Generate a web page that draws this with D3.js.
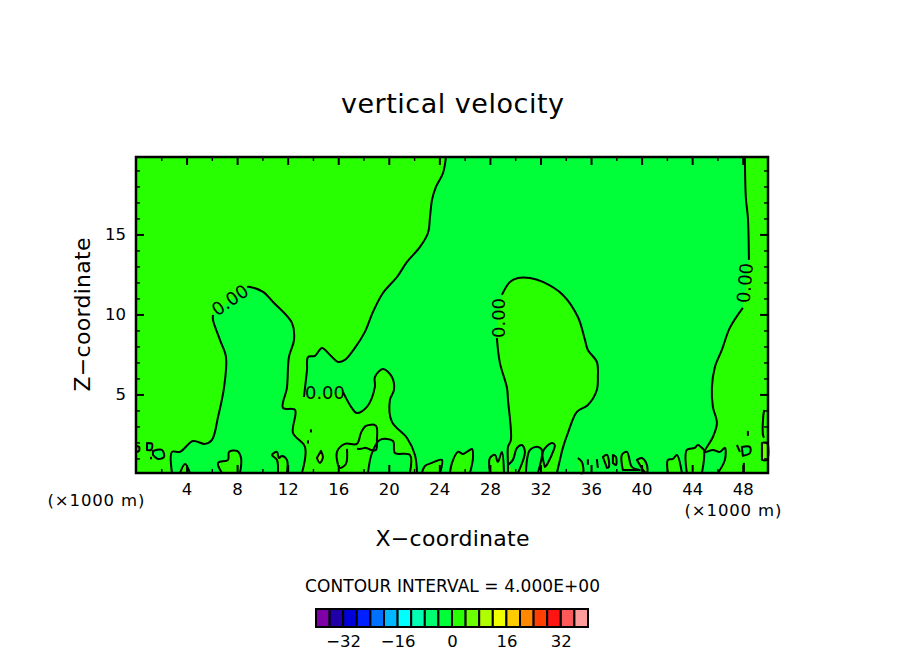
<!DOCTYPE html>
<html>
<head>
    <title>vertical velocity</title>
    <meta charset="utf-8">
    <script src="https://cdnjs.cloudflare.com/ajax/libs/d3/7.8.5/d3.min.js"></script>
    <style>
        html, body {
            margin: 0;
            background: #fff;
        }

        svg {
            display: block;
        }

        text {
            font-family: "DejaVu Sans", sans-serif;
            fill: #000;
        }

        .contour {
            fill: none;
            stroke: #000;
            stroke-width: 2;
            stroke-linejoin: round;
        }
    </style>
</head>
<body>
<svg id="chart" width="904" height="654"></svg>
<script type="text/javascript">

var xMajorTicks = [4, 8, 12, 16, 20, 24, 28, 32, 36, 40, 44, 48],
    xMinorTicks = [2, 6, 10, 14, 18, 22, 26, 30, 34, 38, 42, 46],
    zMajorTicks = [5, 10, 15],
    zMinorTicks = [1, 2, 3, 4, 6, 7, 8, 9, 11, 12, 13, 14, 16, 17, 18, 19],
    barLevels = [-40, -36, -32, -28, -24, -20, -16, -12, -8, -4, 0, 4, 8, 12, 16, 20, 24, 28, 32, 36, 40],
    barTicks = [-32, -16, 0, 16, 32],
    barColors = ['#8000a8', '#2000a8', '#0000d8', '#0020ff', '#0070ff', '#00b8ff', '#00ffff', '#00ffb4',
        '#00ff70', '#00ff38', '#28ff00', '#6cff00', '#b0ff00', '#f0ff00', '#ffcc00', '#ff8800',
        '#ff4000', '#ff1414', '#ff5858', '#ff9c9c'];

// contour lines as [x, z], split where the 0.00 labels sit
var ridgeUpper = [[24.52, 19.84], [24.29, 18.84], [23.73, 17.97], [23.42, 17.16], [23.26, 16.09], [23.10, 15.09],
        [22.47, 14.22], [21.44, 13.28], [20.65, 12.34], [19.54, 11.34], [18.75, 10.16], [18.11, 8.91], [17.32, 7.91],
        [16.53, 7.16], [15.98, 7.03], [15.35, 7.47], [14.71, 7.91], [14.16, 7.41], [13.61, 7.34], [13.53, 6.53],
        [13.37, 5.41], [13.29, 4.84]],
    ridgeLower = [[16.37, 5.16], [17.07, 4.16], [17.47, 3.84], [18.27, 4.22], [18.90, 5.47], [18.90, 6.09], [19.54, 6.59],
        [20.25, 6.09], [20.41, 5.28], [20.09, 4.66], [20.25, 3.28], [21.44, 2.28], [22.07, 1.22], [22.23, 0.09]],
    lobeRight = [[13.13, 0.09], [13.37, 1.72], [12.42, 2.59], [12.58, 4.03], [11.63, 4.16], [11.94, 5.41], [12.10, 7.34],
        [12.50, 8.41], [12.34, 9.47], [10.84, 10.78], [10.05, 11.41], [9.02, 11.72], [8.78, 11.72]],
    lobeLeft = [[6.09, 9.97], [6.09, 9.66], [6.64, 8.41], [7.12, 7.34], [6.96, 5.41], [6.49, 3.59], [6.01, 2.16], [5.46, 1.91],
        [4.51, 2.09], [3.48, 1.41], [2.85, 1.41], [2.85, 0.09]],
    hillLeft = [[29.43, 0.09], [29.43, 0.59], [29.43, 1.72], [29.66, 2.16], [29.43, 4.66], [29.35, 5.41], [28.79, 6.97], [28.55, 8.53]],
    hillRight = [[28.95, 11.22], [29.58, 12.03], [30.22, 12.28], [31.17, 12.28], [32.19, 12.03], [33.77, 11.22], [34.96, 9.84],
        [35.52, 8.41], [35.75, 7.78], [36.46, 7.03], [36.54, 6.09], [36.46, 5.28], [35.75, 4.34], [34.88, 3.91], [34.17, 2.59],
        [33.77, 1.66], [33.54, 0.91], [33.30, 0.09]],
    edgeUpper = [[48.17, 19.84], [48.25, 17.28], [48.41, 16.03], [48.49, 13.41]],
    edgeLower = [[48.01, 10.41], [46.98, 9.16], [46.35, 7.78], [45.80, 6.72], [45.56, 5.41], [45.64, 4.22], [45.96, 3.22],
        [45.64, 2.34], [45.01, 1.41], [45.64, 1.53], [46.20, 1.41], [46.59, 1.66], [46.59, 0.91], [46.04, 0.09]];

// closed or bottom-open cells, by what they hold
var positiveCells = [
        [[3.48, 0.09], [3.88, 0.66], [4.27, 0.09]],
        [[6.80, 0.09], [6.49, 0.72], [7.28, 0.91], [7.36, 1.41], [7.99, 1.47], [8.31, 1.03], [8.23, 0.09]],
        [[11.23, 0.09], [11.15, 0.91], [10.76, 1.22], [11.15, 1.41], [11.31, 1.03], [11.55, 1.16], [11.94, 0.91], [11.94, 0.09]],
        [[22.62, 0.09], [22.86, 0.53], [23.41, 0.72], [24.20, 0.91], [24.05, 0.09]],
        [[24.84, 0.09], [25.00, 0.72], [25.47, 1.41], [25.87, 1.28], [26.18, 1.41], [26.58, 1.59], [26.66, 1.03], [26.42, 0.09]],
        [[28.00, 0.09], [28.00, 1.03], [28.40, 1.22], [28.63, 0.78], [28.95, 1.41], [29.11, 0.09]],
        [[34.96, 1.03], [35.28, 0.78], [35.36, 0.09], [35.12, 0.09]],
        [[36.94, 1.09], [37.26, 1.22], [37.41, 0.47], [37.26, 0.41]],
        [[37.73, 1.22], [37.97, 1.09], [37.97, 0.59], [37.73, 0.72]],
        [[38.52, 0.28], [38.44, 1.22], [38.84, 1.41], [39.23, 0.47], [39.86, 0.28]],
        [[39.63, 0.91], [40.02, 1.03], [40.42, 0.59], [40.42, 0.09], [40.10, 0.28]],
        [[42.08, 0.09], [42.08, 0.91], [42.48, 0.97], [42.79, 1.22], [43.19, 0.09]],
        [[43.58, 0.09], [43.58, 1.53], [44.20, 1.66], [44.45, 1.84], [44.77, 1.66], [44.93, 1.53], [44.93, 0.91], [44.77, 0.09]]
    ],
    negativeCells = [
        [[18.35, 0.09], [18.67, 1.34], [19.30, 2.16], [20.33, 2.09], [20.49, 1.34], [21.67, 1.22], [21.67, 0.09]],
        [[30.22, 0.09], [30.77, 1.41], [30.53, 1.84], [30.14, 1.66], [29.82, 0.91], [29.43, 0.59]],
        [[30.85, 0.09], [31.17, 1.53], [31.80, 1.72], [32.11, 1.53], [31.80, 0.09]],
        [[32.35, 0.47], [32.19, 1.41], [32.89, 1.97], [33.13, 1.84], [32.89, 1.22], [32.50, 0.59]],
        [[0.87, 1.97], [1.27, 1.91], [1.19, 1.53], [0.87, 1.53]],
        [[1.34, 1.47], [2.06, 1.53], [2.21, 1.09], [1.74, 0.97], [1.34, 1.22]],
        [[47.93, 1.72], [48.57, 1.72], [48.57, 1.34], [48.01, 1.16]]
    ],
    strongCells = [
        [[14.63, 1.47], [14.79, 1.09], [14.55, 0.72], [14.31, 1.03]],
        [[49.52, 1.97], [49.92, 1.97], [49.92, 0.91], [49.52, 0.91]]
    ],
    looseLines = [
        [[15.98, 0.6], [15.90, 1.41], [16.53, 1.91], [17.48, 1.91], [17.80, 2.60], [18.19, 3.04], [18.98, 3.04], [19.06, 2.16], [18.98, 1.53], [18.59, 1.53], [18.19, 1.66], [17.80, 1.60], [17.48, 1.60]],
        [[16.69, 1.60], [16.61, 0.66], [16.15, 0.41], [15.98, 0.6]],
        [[0, 1.78], [0.24, 1.72], [0.24, 1.47], [0, 1.41]],
        [[13.84, 2.82], [13.84, 2.62]],
        [[13.61, 2.13], [13.61, 1.93]],
        [[1.19, 1.10], [1.19, 0.95]],
        [[35.75, 0.95], [35.75, 0.60]],
        [[36.46, 0.95], [36.54, 0.41]],
        [[47.54, 1.84], [47.78, 1.41]],
        [[48.41, 2.72], [48.41, 2.41]],
        [[48.09, 0.72], [48.09, 0.09]],
        [[49.70, 4.03], [49.62, 3.60], [49.62, 2.40], [49.70, 2.30]]
    ];

var labelPoints = [[14.95, 5.09, 0], [7.43, 10.9, -35], [28.71, 9.78, -90], [48.17, 11.97, -85]];

var xMin = 0,
    xMax = 50,
    zMin = 0.09,
    zMax = 19.84,
    negativeColor = barColors[9],
    positiveColor = barColors[10],
    strongColor = barColors[11];

var svg = d3.select('#chart'),
    xScale = d3.scaleLinear().domain([xMin, xMax]).range([136, 768]),
    zScale = d3.scaleLinear().domain([zMin, zMax]).range([473, 157]),
    barScale = d3.scaleLinear().domain([barLevels[0], barLevels[barLevels.length - 1]]).range([316, 588]),
    straightLine = d3.line()
        .x(function (d) { return xScale(d[0]); })
        .y(function (d) { return zScale(d[1]); }),
    line = d3.line()
        .curve(d3.curveCatmullRom.alpha(0.5))
        .x(function (d) { return xScale(d[0]); })
        .y(function (d) { return zScale(d[1]); });

var plot = svg.append('g');

plot.append('rect')
    .attr('x', xScale(xMin))
    .attr('y', zScale(zMax))
    .attr('width', xScale(xMax) - xScale(xMin))
    .attr('height', zScale(zMin) - zScale(zMax))
    .attr('fill', negativeColor);

function fillCell(points, color) {
    plot.append('path')
        .attr('d', line(points) + 'Z')
        .attr('fill', color)
        .attr('stroke', 'none');
}

function isClosedCell(points) {
    return points.length > 3 && points[0][1] > 0.2 && points[points.length - 1][1] > 0.2;
}

var upperLeft = [[xMin, zMax]].concat(ridgeUpper, ridgeLower, lobeRight, lobeLeft, [[xMin, zMin]]),
    hill = hillLeft.concat(hillRight),
    rightSide = edgeUpper.concat(edgeLower, [[xMax, zMin], [xMax, zMax]]);

// corners of the plot must stay sharp, so these two are filled without the curve
plot.append('path')
    .attr('d', straightLine(upperLeft) + 'Z')
    .attr('fill', positiveColor);
plot.append('path')
    .attr('d', straightLine(rightSide) + 'Z')
    .attr('fill', positiveColor);
fillCell(hill, positiveColor);
positiveCells.forEach(function (cell) { fillCell(cell, positiveColor); });
negativeCells.forEach(function (cell) { fillCell(cell, negativeColor); });
strongCells.forEach(function (cell) { fillCell(cell, strongColor); });

[ridgeUpper, ridgeLower, lobeRight, lobeLeft, hillLeft, hillRight, edgeUpper, edgeLower]
    .concat(looseLines)
    .forEach(function (points) {
        plot.append('path')
            .attr('class', 'contour')
            .attr('d', line(points));
    });

positiveCells.concat(negativeCells, strongCells)
    .forEach(function (points) {
        plot.append('path')
            .attr('class', 'contour')
            .attr('d', line(points) + (isClosedCell(points) ? 'Z' : ''));
    });

plot.selectAll('.contourLabel')
    .data(labelPoints)
    .enter()
    .append('text')
    .attr('class', 'contourLabel')
    .attr('transform', function (d) {
        return 'translate(' + xScale(d[0]) + ',' + zScale(d[1]) + ') rotate(' + d[2] + ')';
    })
    .attr('text-anchor', 'middle')
    .attr('dy', '0.36em')
    .attr('font-size', 18)
    .attr('textLength', 40)
    .attr('lengthAdjust', 'spacingAndGlyphs')
    .text('0.00');

plot.append('rect')
    .attr('x', xScale(xMin))
    .attr('y', zScale(zMax))
    .attr('width', xScale(xMax) - xScale(xMin))
    .attr('height', zScale(zMin) - zScale(zMax))
    .attr('fill', 'none')
    .attr('stroke', '#000')
    .attr('stroke-width', 2.5);

function drawTicks(axis, translate, values, size, padding, labelled) {
    var g = svg.append('g')
        .attr('transform', translate)
        .call(axis
            .tickValues(values)
            .tickSizeInner(-size)
            .tickSizeOuter(0)
            .tickPadding(padding)
            .tickFormat(labelled ? d3.format('d') : ''));
    g.select('.domain').remove();
    g.selectAll('line').attr('stroke', '#000').attr('stroke-width', size > 4 ? 2 : 1.4);
    g.selectAll('text').attr('font-size', 16.5).attr('font-family', '"DejaVu Sans", sans-serif');
}

var bottomAt = 'translate(0,' + zScale(zMin) + ')',
    topAt = 'translate(0,' + zScale(zMax) + ')',
    leftAt = 'translate(' + xScale(xMin) + ',0)',
    rightAt = 'translate(' + xScale(xMax) + ',0)';

drawTicks(d3.axisBottom(xScale), bottomAt, xMajorTicks, 8, 10, true);
drawTicks(d3.axisBottom(xScale), bottomAt, xMinorTicks, 4, 10, false);
drawTicks(d3.axisTop(xScale), topAt, xMajorTicks, 8, 0, false);
drawTicks(d3.axisTop(xScale), topAt, xMinorTicks, 4, 0, false);
drawTicks(d3.axisLeft(zScale), leftAt, zMajorTicks, 8, 10, true);
drawTicks(d3.axisLeft(zScale), leftAt, zMinorTicks, 4, 0, false);
drawTicks(d3.axisRight(zScale), rightAt, zMajorTicks, 8, 0, false);
drawTicks(d3.axisRight(zScale), rightAt, zMinorTicks, 4, 0, false);

function addText(content, x, y, size, width, rotate) {
    var t = svg.append('text')
        .attr('text-anchor', 'middle')
        .attr('font-size', size)
        .attr('textLength', width)
        .text(content);
    if (rotate) {
        t.attr('transform', 'translate(' + x + ',' + y + ') rotate(' + rotate + ')');
    } else {
        t.attr('x', x).attr('y', y);
    }
}

addText('vertical velocity', 452.5, 113, 27, 223);
addText('X\u2212coordinate', 452.5, 546, 22, 154);
addText('Z\u2212coordinate', 90, 314.5, 22, 154, -90);
addText('(\u00d71000 m)', 96, 506, 16.5, 97);
addText('(\u00d71000 m)', 733, 516, 16.5, 97);
addText('CONTOUR INTERVAL = 4.000E+00', 452.5, 592, 17, 295);

// colour bar
var barTop = 609,
    barBottom = 627,
    cells = barColors.map(function (color, i) {
        return {color: color, from: barLevels[i], to: barLevels[i + 1]};
    });

svg.append('g')
    .selectAll('rect')
    .data(cells)
    .enter()
    .append('rect')
    .attr('x', function (d) { return barScale(d.from); })
    .attr('y', barTop)
    .attr('width', function (d) { return barScale(d.to) - barScale(d.from); })
    .attr('height', barBottom - barTop)
    .attr('fill', function (d) { return d.color; })
    .attr('stroke', '#000')
    .attr('stroke-width', 2);

var barAxis = svg.append('g')
    .attr('transform', 'translate(0,' + barBottom + ')')
    .call(d3.axisBottom(barScale).tickValues(barTicks).tickSize(0).tickPadding(8).tickFormat(d3.format('d')));

barAxis.select('.domain').remove();
barAxis.selectAll('text').attr('font-size', 16.5).attr('font-family', '"DejaVu Sans", sans-serif');

</script>
</body>
</html>
